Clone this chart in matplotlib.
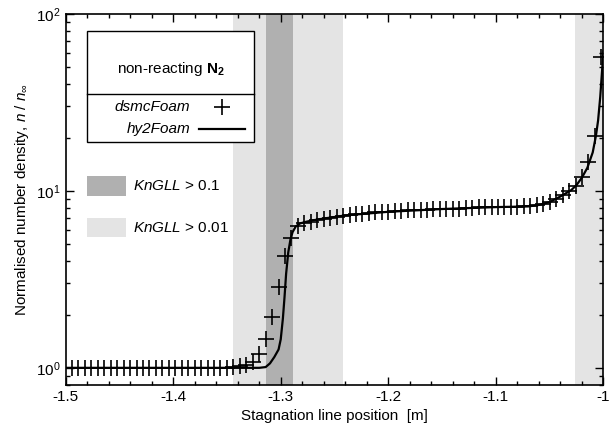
import matplotlib
matplotlib.use('Agg')
import matplotlib.pyplot as plt
from matplotlib.patches import Rectangle
from matplotlib.lines import Line2D
from matplotlib.ticker import MultipleLocator, LogLocator, NullFormatter

plt.rcParams['font.family'] = 'Liberation Sans'
plt.rcParams['mathtext.fontset'] = 'custom'
plt.rcParams['mathtext.rm'] = 'Liberation Sans'
plt.rcParams['mathtext.it'] = 'Liberation Sans:italic'
plt.rcParams['mathtext.bf'] = 'Liberation Sans:bold'

# dsmcFoam samples along the stagnation line
dsmc_x = [-1.494, -1.488, -1.482, -1.476, -1.470, -1.464, -1.458, -1.452, -1.446, -1.440,
          -1.434, -1.428, -1.422, -1.416, -1.410, -1.404, -1.398, -1.392, -1.386, -1.380,
          -1.374, -1.368, -1.362, -1.356, -1.350, -1.344, -1.338, -1.332, -1.326, -1.320,
          -1.314, -1.308, -1.302, -1.296, -1.290, -1.284, -1.278, -1.272, -1.266, -1.260,
          -1.254, -1.248, -1.242, -1.236, -1.230, -1.224, -1.218, -1.212, -1.206, -1.200,
          -1.194, -1.188, -1.182, -1.176, -1.170, -1.164, -1.158, -1.152, -1.146, -1.140,
          -1.134, -1.128, -1.122, -1.116, -1.110, -1.104, -1.098, -1.092, -1.086, -1.080,
          -1.074, -1.068, -1.062, -1.056, -1.050, -1.044, -1.038, -1.032, -1.026, -1.020,
          -1.014, -1.008, -1.002]
dsmc_n = [1.0, 1.0, 1.0, 1.0, 1.0, 1.0, 1.0, 1.0, 1.0, 1.0,
          1.0, 1.0, 1.0, 1.0, 1.0, 1.0, 1.0, 1.0, 1.0, 1.0,
          1.0, 1.0, 1.0, 1.0, 1.0, 1.01, 1.02, 1.04, 1.08, 1.20,
          1.46, 1.95, 2.88, 4.27, 5.42, 6.3, 6.55, 6.7, 6.85, 6.95,
          7.05, 7.15, 7.25, 7.32, 7.4, 7.45, 7.5, 7.55, 7.6, 7.63,
          7.67, 7.7, 7.75, 7.8, 7.82, 7.85, 7.87, 7.9, 7.92, 7.95,
          7.95, 8.0, 8.05, 8.1, 8.1, 8.12, 8.15, 8.15, 8.15, 8.15,
          8.17, 8.2, 8.3, 8.45, 8.7, 9.05, 9.5, 10.0, 10.7, 12.0,
          14.6, 20.5, 57.0]

# hy2Foam solution
hy2_x = [-1.5, -1.32, -1.314, -1.31, -1.306, -1.302, -1.300, -1.298, -1.2965, -1.295,
         -1.293, -1.291, -1.289, -1.286, -1.282, -1.276, -1.27, -1.26, -1.25, -1.24,
         -1.2, -1.15, -1.1, -1.07, -1.06, -1.05, -1.04, -1.03, -1.025, -1.02,
         -1.015, -1.01, -1.007, -1.005, -1.003, -1.0015, -1.0]
hy2_n = [1.0, 1.0, 1.01, 1.06, 1.15, 1.27, 1.45, 1.9, 2.5, 3.4,
         4.5, 5.3, 5.85, 6.3, 6.55, 6.7, 6.82, 6.98, 7.12, 7.27,
         7.62, 7.9, 8.1, 8.17, 8.33, 8.65, 9.3, 10.1, 10.8, 11.9,
         13.5, 16.5, 20.5, 25.0, 34.0, 46.0, 62.0]

# GLL Knudsen number breakdown regions
kn01 = [(-1.3137, -1.2884)]
kn001 = [(-1.3447, -1.2425), (-1.0266, -1.0)]

dark = '#b0b0b0'
light = '#e4e4e4'

fig = plt.figure(figsize=(6.1, 4.42), dpi=100)
ax = fig.add_axes([0.1075, 0.129, 0.8818, 0.8394])

for a, b in kn001:
    ax.axvspan(a, b, color=light, lw=0, zorder=0)
for a, b in kn01:
    ax.axvspan(a, b, color=dark, lw=0, zorder=0)

ax.plot(hy2_x, hy2_n, color='black', lw=1.6, zorder=3)
ax.plot(dsmc_x, dsmc_n, ls='none', marker='+', ms=11, mew=1.2, color='black', zorder=4)

ax.set_yscale('log')
ax.set_xlim(-1.5, -1.0)
ax.set_ylim(0.8, 100)
ax.set_xticks([-1.5, -1.4, -1.3, -1.2, -1.1, -1.0])
ax.set_xticklabels(['-1.5', '-1.4', '-1.3', '-1.2', '-1.1', '-1'])
ax.xaxis.set_minor_locator(MultipleLocator(0.02))
ax.yaxis.set_minor_locator(LogLocator(base=10, subs=range(2, 10)))
ax.yaxis.set_minor_formatter(NullFormatter())
ax.tick_params(which='both', direction='in', top=True, right=True, labelsize=11)
ax.tick_params(which='major', length=6, width=1)
ax.tick_params(which='minor', length=3, width=1)
for s in ax.spines.values():
    s.set_linewidth(1.2)

ax.set_xlabel('Stagnation line position  [m]', fontsize=11)
ax.set_ylabel(r'Normalised number density, $n$ / $n_\infty$', fontsize=11)

# hand-made legend box
T = ax.transAxes
ax.add_patch(Rectangle((0.0392, 0.6549), 0.3116, 0.2983, transform=T, fill=True,
                       facecolor='white', edgecolor='black', lw=1.0, zorder=5))
ax.add_line(Line2D([0.0392, 0.3508], [0.7838, 0.7838], transform=T, color='black', lw=1.0, zorder=6))
ax.text(0.195, 0.8514, r'non-reacting $\mathbf{N_2}$', transform=T, ha='center', va='center',
        fontsize=11, zorder=6)
ax.text(0.2313, 0.7486, 'dsmcFoam', style='italic', transform=T, ha='right', va='center',
        fontsize=11, zorder=6)
ax.plot([0.2902], [0.7486], transform=T, marker='+', ms=11, mew=1.2, color='black', zorder=6)
ax.text(0.2326, 0.6892, 'hy2Foam', style='italic', transform=T, ha='right', va='center',
        fontsize=11, zorder=6)
ax.add_line(Line2D([0.2486, 0.3335], [0.6892, 0.6892], transform=T, color='black', lw=1.6, zorder=6))

ax.add_patch(Rectangle((0.0392, 0.5092), 0.0725, 0.0538, transform=T, facecolor=dark, lw=0, zorder=5))
ax.text(0.1247, 0.5351, r'$\mathit{KnGLL}$ > 0.1', transform=T, ha='left', va='center', fontsize=11, zorder=6)
ax.add_patch(Rectangle((0.0392, 0.3992), 0.0725, 0.0513, transform=T, facecolor=light, lw=0, zorder=5))
ax.text(0.1247, 0.4243, r'$\mathit{KnGLL}$ > 0.01', transform=T, ha='left', va='center', fontsize=11, zorder=6)

plt.savefig('out.png', dpi=100)
